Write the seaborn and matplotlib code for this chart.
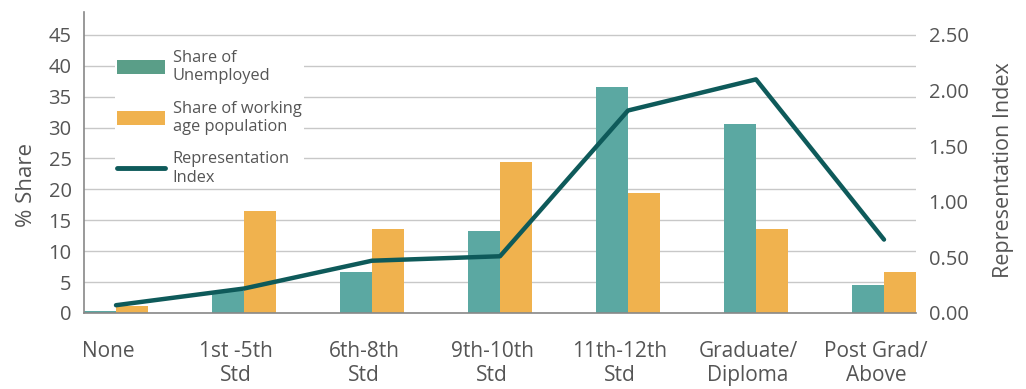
import matplotlib
matplotlib.use("Agg")
import matplotlib.pyplot as plt
import matplotlib.transforms as mtransforms
import seaborn as sns
import pandas as pd
import numpy as np
from matplotlib.patches import Patch
from matplotlib.lines import Line2D

categories = ["None", "1st -5th\nStd", "6th-8th\nStd", "9th-10th\nStd",
              "11th-12th\nStd", "Graduate/\nDiploma", "Post Grad/\nAbove"]
share_unemployed = [0.3, 3.5, 6.7, 13.2, 36.6, 30.6, 4.5]
share_working_age = [1.1, 16.5, 13.6, 24.4, 19.4, 13.6, 6.7]
representation_index = [0.07, 0.22, 0.47, 0.51, 1.82, 2.10, 0.66]
series_names = ["Share of\nUnemployed", "Share of working\nage population"]
line_name = "Representation\nIndex"

teal = "#5BA8A2"
orange = "#F0B24E"
dark = "#0E5A5A"
gray_text = "#555555"

sns.set_theme(style="white")
plt.rcParams['font.family'] = ['Open Sans', 'DejaVu Sans']

df = pd.DataFrame({
    "cat": categories * 2,
    "val": share_unemployed + share_working_age,
    "series": [series_names[0]] * len(categories) + [series_names[1]] * len(categories),
})

fig = plt.figure(figsize=(10.26, 3.89), dpi=100)
ax = fig.add_axes([84/1026, 1-313/389, (916-84)/1026, (313-12)/389])
sns.barplot(data=df, x="cat", y="val", hue="series", order=categories,
            hue_order=series_names, palette=[teal, orange], width=0.5,
            saturation=1, ax=ax, legend=False, linewidth=0, edgecolor="none")
ax.set_xlim(-0.25, len(categories) - 0.75)
ax.set_ylim(0, 48.7)
ax.set_yticks(np.arange(0, 50, 5))
ax.yaxis.grid(True, color="#c8c8c8", linewidth=1)
ax.set_axisbelow(True)
ax.set_xlabel("")
ax.set_ylabel("% Share", fontsize=16, color=gray_text)
ax.yaxis.set_label_coords(-0.057, 0.425)
ax.tick_params(axis="y", length=0, pad=9, labelsize=14.5, labelcolor=gray_text)
ax.tick_params(axis="x", length=0, pad=20, labelsize=15, labelcolor=gray_text)
offset = mtransforms.ScaledTranslation(-8/100, 0, fig.dpi_scale_trans)
for lbl in ax.get_xticklabels():
    lbl.set_transform(lbl.get_transform() + offset)
for s in ["top", "right"]:
    ax.spines[s].set_visible(False)
for s in ["left", "bottom"]:
    ax.spines[s].set_color("#888888")
    ax.spines[s].set_linewidth(1.2)

ax2 = ax.twinx()
sns.lineplot(x=categories, y=representation_index, sort=False, color=dark,
             linewidth=3.2, ax=ax2)
ax2.set_ylim(0, 48.7 / 18)
ax2.set_yticks(np.arange(0, 2.51, 0.5))
ax2.set_yticklabels([f"{v:.2f}" for v in np.arange(0, 2.51, 0.5)])
ax2.set_ylabel("Representation Index", fontsize=15.5, color=gray_text)
ax2.yaxis.set_label_coords(1.092, 0.475)
ax2.tick_params(axis="y", length=0, pad=9, labelsize=14.5, labelcolor=gray_text)
for s in ["top", "right", "left", "bottom"]:
    ax2.spines[s].set_visible(False)

handles = [Patch(facecolor="#5A9E88", edgecolor="none"),
           Patch(facecolor=orange, edgecolor="none"),
           Line2D([0], [0], color=dark, linewidth=3.5, solid_capstyle="round")]
leg = ax2.legend(handles, [series_names[0], series_names[1], line_name],
                 loc="upper left", bbox_to_anchor=(0.027, 0.91),
                 frameon=True, facecolor="white", edgecolor="none", framealpha=1,
                 fontsize=11.8, handlelength=2.9, handleheight=0.9,
                 labelspacing=1.0, borderpad=0.15, handletextpad=0.5,
                 labelcolor=gray_text, fancybox=False)

fig.savefig("out.png", dpi=100)
